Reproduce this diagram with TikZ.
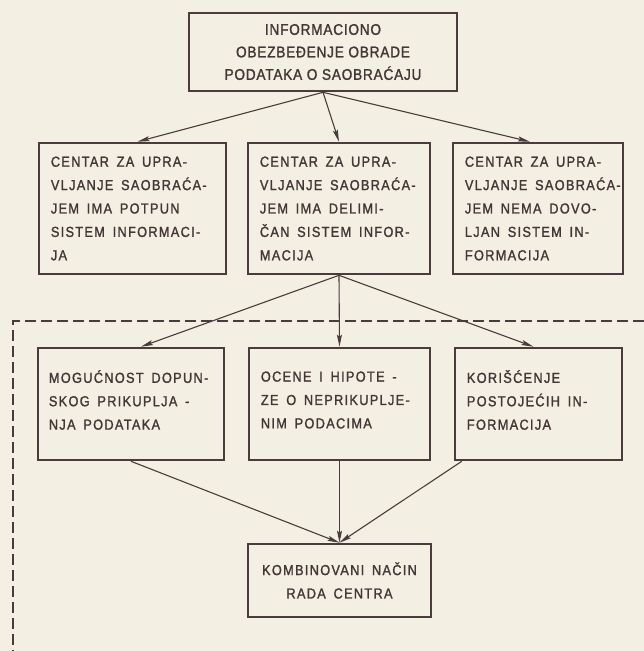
\documentclass[tikz,border=0pt]{standalone}
\usepackage{fontspec}
\setmainfont{Liberation Sans}
\newfontfamily\slovafont[FakeStretch=0.88,LetterSpace=9,WordSpace=1.6,FakeBold=1.4]{Liberation Sans}
\newfontfamily\naslovfont[FakeStretch=0.88,LetterSpace=5,FakeBold=1.4]{Liberation Sans}
\usetikzlibrary{arrows.meta}
\definecolor{papir}{HTML}{F3EFE2}
\definecolor{linija}{HTML}{4A3C3D}
\definecolor{slova}{HTML}{433637}
\tikzset{
  kutija/.style={draw=linija, line width=2.6pt},
  tekst/.style={text=slova, align=left, inner sep=0pt, anchor=west,
    font=\slovafont\fontsize{14.5}{23.4}\selectfont},
  naslov/.style={kutija, text=slova, align=center,
    font=\naslovfont\fontsize{15.5}{22.5}\selectfont},
  strelica/.style={draw=linija, line width=1.1pt, -{Stealth[length=12pt,width=5pt,inset=2pt]}},
  okvir/.style={draw=linija, line width=1.2pt, dash pattern=on 11pt off 5pt}
}
\begin{document}
\begin{tikzpicture}[x=1pt,y=-1pt]
      \fill[papir] (0,0) rectangle (644,651);
      \useasboundingbox (0,0) rectangle (644,651);

      % prvi nivo
      \node[naslov, minimum width=268pt, minimum height=78pt] (info) at (323,52)
            {INFORMACIONO\\OBEZBEĐENJE OBRADE\\PODATAKA O SAOBRAĆAJU};

      % drugi nivo
      \node[kutija, minimum width=187pt, minimum height=131pt] (cpot) at (132.5,208.5) {};
      \node[kutija, minimum width=182pt, minimum height=131pt] (cdel) at (339,208.5) {};
      \node[kutija, minimum width=170pt, minimum height=131pt] (cnema) at (538,208.5) {};
      \node[tekst] (cpot-t) at ([xshift=13pt]cpot.west)
            {CENTAR ZA UPRA-\\VLJANJE SAOBRAĆA-\\JEM IMA POTPUN\\SISTEM INFORMACI-\\JA};
      \node[tekst] (cdel-t) at ([xshift=13pt]cdel.west)
            {CENTAR ZA UPRA-\\VLJANJE SAOBRAĆA-\\JEM IMA DELIMI-\\ČAN SISTEM INFOR-\\MACIJA};
      \node[tekst] (cnema-t) at ([xshift=13pt]cnema.west)
            {CENTAR ZA UPRA-\\VLJANJE SAOBRAĆA-\\JEM NEMA DOVO-\\LJAN SISTEM IN-\\FORMACIJA};

      % treci nivo
      \node[kutija, minimum width=186pt, minimum height=112pt] (dopun) at (131,404) {};
      \node[kutija, minimum width=181pt, minimum height=112pt] (ocene) at (339.5,404) {};
      \node[kutija, minimum width=167pt, minimum height=112pt] (koris) at (538.5,404) {};
      \node[tekst] (dopun-t) at ([xshift=12pt,yshift=4pt]dopun.west)
            {MOGUĆNOST DOPUN-\\SKOG PRIKUPLJA -\\NJA PODATAKA};
      \node[tekst] (ocene-t) at ([xshift=13pt,yshift=4pt]ocene.west)
            {OCENE I HIPOTE -\\ZE O NEPRIKUPLJE-\\NIM PODACIMA};
      \node[tekst] (koris-t) at ([xshift=13pt,yshift=4pt]koris.west)
            {KORIŠĆENJE\\POSTOJEĆIH IN-\\FORMACIJA};

      \node[kutija, minimum width=183pt, minimum height=73pt] (komb) at (339.5,580.5) {};
      \node[tekst, anchor=center, align=center] (komb-t) at (komb) {KOMBINOVANI NAČIN\\RADA CENTRA};

      \draw[strelica] (info.south) -- ([xshift=5pt]cpot.north);
      \draw[strelica] (info.south) -- (cdel.north);
      \draw[strelica] (info.south) -- ([xshift=-8pt]cnema.north);

      \draw[strelica] (cdel.south) -- ([xshift=10pt]dopun.north);
      \draw[strelica] (cdel.south) -- (ocene.north);
      \draw[strelica] (cdel.south) -- ([xshift=-5pt]koris.north);

      \draw[strelica] (dopun.south) -- (komb.north);
      \draw[strelica] (ocene.south) -- (komb.north);
      \draw[strelica] ([xshift=8pt]koris.south west) -- (komb.north);

      \coordinate (ugao) at (13,321);
      \draw[okvir] (644,321) -- (ugao) -- (13,651);
\end{tikzpicture}
\end{document}
